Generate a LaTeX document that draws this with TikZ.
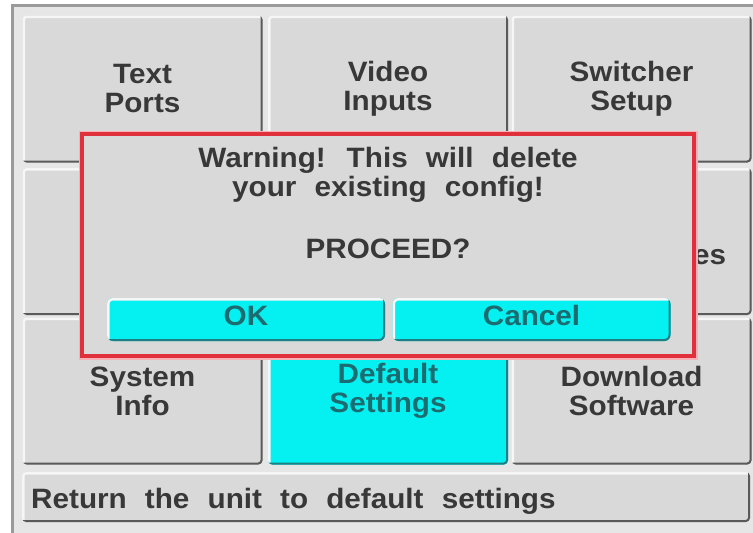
\documentclass[tikz,border=0pt]{standalone}
\usepackage{fontspec}
\setmainfont{Liberation Sans}[WordSpace=2.2, FakeStretch=1.06]
\usepackage{xcolor}
\definecolor{panel}{HTML}{D9D9D9}
\definecolor{backdrop}{HTML}{E6E6E6}
\definecolor{framegray}{HTML}{9A9A9A}
\definecolor{edgegray}{HTML}{5A5A5A}
\definecolor{hilite}{HTML}{F6F6F6}
\definecolor{hot}{HTML}{05F0F0}
\definecolor{hotedge}{HTML}{1E7E84}
\definecolor{hottext}{HTML}{1B6B70}
\definecolor{ink}{HTML}{383838}
\definecolor{alert}{HTML}{E0303C}
\definecolor{halo}{HTML}{F6B0B6}

\newcommand{\keyfont}{\fontsize{28}{29}\selectfont\bfseries}
\newcommand{\bevel}[2]{%
  \draw[#1, line width=5pt] (path picture bounding box.south west) -- (path picture bounding box.north west) -- (path picture bounding box.north east);
  \draw[#2, line width=4pt] (path picture bounding box.south west) -- (path picture bounding box.south east) -- (path picture bounding box.north east);}

\tikzset{
  key/.style={rectangle, rounded corners=4pt, fill=panel, text=ink, font=\keyfont, align=center,
    inner sep=0pt, minimum width=240pt, minimum height=147pt, path picture={\bevel{hilite}{edgegray}}},
  hotkey/.style={key, fill=hot, text=hottext, path picture={\bevel{hilite}{hotedge}}},
  dlgkey/.style={hotkey, rounded corners=6pt, minimum width=278pt, minimum height=43pt, text height=20pt, text depth=8pt},
  dialog/.style={rectangle, fill=panel, draw=alert, line width=3.5pt, preaction={draw=halo, line width=7pt},
    minimum width=612pt, minimum height=222pt},
  msg/.style={font=\keyfont, text=ink, align=center, inner sep=0pt}
}

\begin{document}
\begin{tikzpicture}[x=1pt,y=-1pt]
    \useasboundingbox (0,0) rectangle (753,533);
    \fill[white] (0,0) rectangle (753,533);
    \draw[framegray, line width=3pt, fill=backdrop] (12.5,5.5) rectangle (770,550);

    % menu keys
    \node[key] (txtports) at (142.5,89) {Text\\Ports};
    \node[key] (vidinputs) at (388,89) {Video\\Inputs};
    \node[key] (swsetup) at (631.5,89) {Switcher\\Setup};
    \node[key] (keyleft) at (142.5,241.5) {};
    \node[key] (keymid) at (388,241.5) {};
    \node[key] (keyright) at (631.5,241.5) {};
    \node[msg, anchor=base west] (esfrag) at (693,264) {es};
    \node[key] (sysinfo) at (142.5,391) {System\\Info};
    \node[hotkey] (defaults) at (388,391) {Default\\Settings};
    \node[key] (download) at (631.5,391) {Download\\Software};

    \node[key, minimum width=728pt, minimum height=50pt] (status) at (386,497) {};
    \node[msg, anchor=base west] (statustxt) at (31,508) {Return the unit to default settings};

    % warning dialog
    \node[dialog] (warnbox) at (388,245) {};
    \node[msg] (warntxt) at (388,175) {Warning! This will delete\\your existing config!};
    \node[msg, anchor=base] (proceed) at (388,258) {PROCEED?};
    \node[dlgkey] (okkey) at (246,319.5) {OK};
    \node[dlgkey] (cancelkey) at (531.5,319.5) {Cancel};
\end{tikzpicture}
\end{document}
